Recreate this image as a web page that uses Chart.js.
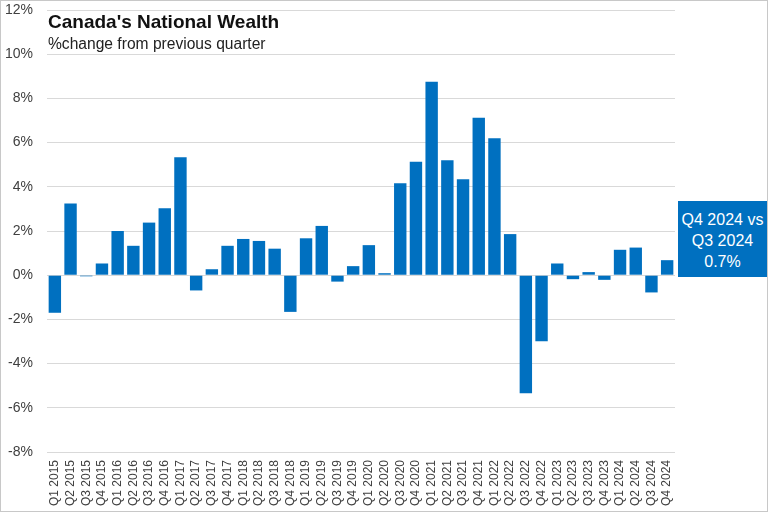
<!DOCTYPE html>
<html>
<head>
<meta charset="utf-8">
<script src="https://cdn.jsdelivr.net/npm/chart.js@4/dist/chart.umd.min.js"></script>
<style>
  html, body { margin: 0; padding: 0; background: #fff; }
  #wrap { position: relative; width: 768px; height: 512px; overflow: hidden; }
  #frame { position: absolute; left: 0; top: 0; width: 766px; height: 510px; border: 1px solid #c8c8c8; pointer-events: none; }
  #title { position: absolute; left: 48px; top: 11px; font: bold 19px "Liberation Sans", Arial, sans-serif; color: #111; white-space: nowrap; }
  #subtitle { position: absolute; left: 48px; top: 35px; font: 15.6px "Liberation Sans", Arial, sans-serif; color: #222; white-space: nowrap; }
  #note { position: absolute; left: 678px; top: 201px; width: 89px; height: 76px; background: #0070C0; color: #fff;
          font: 16px "Liberation Sans", Arial, sans-serif; text-align: center; line-height: 21px; padding-top: 8px; box-sizing: border-box; white-space: nowrap; }
</style>
</head>
<body>
<div id="wrap">
  <canvas id="c" width="768" height="512"></canvas>
  <div id="title">Canada's National Wealth</div>
  <div id="subtitle">%change from previous quarter</div>
  <div id="note">Q4 2024 vs<br>Q3 2024<br>0.7%</div>
  <div id="frame"></div>
</div>
<script>
const quarters = [
  "Q1 2015","Q2 2015","Q3 2015","Q4 2015",
  "Q1 2016","Q2 2016","Q3 2016","Q4 2016",
  "Q1 2017","Q2 2017","Q3 2017","Q4 2017",
  "Q1 2018","Q2 2018","Q3 2018","Q4 2018",
  "Q1 2019","Q2 2019","Q3 2019","Q4 2019",
  "Q1 2020","Q2 2020","Q3 2020","Q4 2020",
  "Q1 2021","Q2 2021","Q3 2021","Q4 2021",
  "Q1 2022","Q2 2022","Q3 2022","Q4 2022",
  "Q1 2023","Q2 2023","Q3 2023","Q4 2023",
  "Q1 2024","Q2 2024","Q3 2024","Q4 2024"
];
const wealthChange = [
  -1.7, 3.25, -0.05, 0.53,
  2.0, 1.33, 2.38, 3.03,
  5.34, -0.69, 0.27, 1.33,
  1.64, 1.55, 1.2, -1.66,
  1.67, 2.23, -0.29, 0.41,
  1.36, 0.09, 4.16, 5.13,
  8.75, 5.2, 4.34, 7.13,
  6.2, 1.86, -5.34, -2.99,
  0.53, -0.18, 0.14, -0.21,
  1.15, 1.25, -0.78, 0.68
];
const yMin = -8, yMax = 12, yStep = 2;

new Chart(document.getElementById('c'), {
  type: 'bar',
  data: {
    labels: quarters,
    datasets: [{
      data: wealthChange,
      backgroundColor: '#0070C0',
      borderWidth: 0,
      barPercentage: 0.79,
      categoryPercentage: 1.0
    }]
  },
  options: {
    responsive: false,
    animation: false,
    layout: { padding: { left: 0, right: 93, top: 10, bottom: 0 } },
    plugins: { legend: { display: false }, tooltip: { enabled: false } },
    scales: {
      x: {
        grid: { display: false },
        border: { display: false },
        ticks: {
          autoSkip: false, maxRotation: 90, minRotation: 90,
          color: '#404040', padding: 0,
          font: { family: '"Liberation Sans", Arial, sans-serif', size: 12 }
        },
        afterFit: (s) => { s.height = 60; s.paddingLeft = 0; s.paddingRight = 0; s.paddingTop = 0; s.paddingBottom = 0; }
      },
      y: {
        min: yMin, max: yMax,
        grid: { color: '#d9d9d9', lineWidth: 1, drawTicks: false },
        border: { display: false },
        ticks: {
          stepSize: yStep, padding: 14, color: '#404040',
          font: { family: '"Liberation Sans", Arial, sans-serif', size: 14 },
          callback: (v) => v + '%'
        },
        afterFit: (s) => { s.width = 47; s.paddingTop = 0; s.paddingBottom = 0; }
      }
    }
  }
});
</script>
</body>
</html>
